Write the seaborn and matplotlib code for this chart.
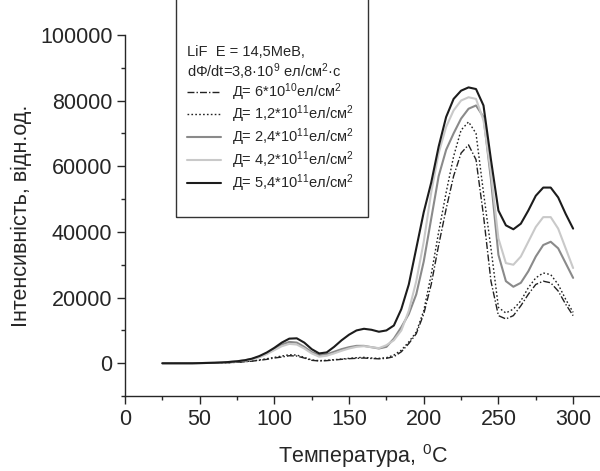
import numpy as np
import pandas as pd
import matplotlib
matplotlib.use("Agg")
import matplotlib.pyplot as plt
from matplotlib.lines import Line2D
from matplotlib.patches import Rectangle
from matplotlib.ticker import MultipleLocator
import seaborn as sns

# temperature grid, degrees C
temp = list(range(25, 301, 5))

# intensity for each dose
d_6e10 = [0, 0, 0, 0, 0, 30, 60, 100, 150, 200, 300, 450, 650, 900, 1200, 1600, 1900, 2300, 2200, 1600,
          900, 700, 800, 1000, 1200, 1400, 1500, 1600, 1450, 1350, 1500, 2000, 3500, 6000, 9000, 15000, 24000,
          36000, 47000, 57000, 64000, 66500, 62000, 45000, 25000, 14500, 13500, 14500, 17500, 21000, 24000,
          25000, 24500, 22000, 18000, 14500]
d_12e11 = [0, 0, 0, 0, 0, 30, 60, 100, 150, 200, 300, 500, 700, 1000, 1400, 1800, 2200, 2600, 2500, 1800,
           1000, 800, 900, 1100, 1300, 1500, 1700, 1800, 1600, 1500, 1700, 2500, 4000, 6500, 9500, 16000,
           27000, 40000, 52000, 63000, 71000, 73500, 70000, 52000, 35000, 17000, 15300, 16500, 19000, 23000,
           26000, 27500, 27000, 24000, 19500, 15500]
d_24e11 = [0, 0, 0, 0, 0, 50, 100, 150, 250, 400, 600, 900, 1300, 2000, 3000, 4300, 5700, 6500, 6300, 5000,
           3400, 2500, 2700, 3500, 4300, 4900, 5300, 5300, 4900, 4500, 5000, 7500, 11000, 15000, 21000,
           31000, 44000, 57000, 65000, 70000, 74500, 77500, 78500, 75000, 56000, 33000, 25000, 23300, 24500,
           28000, 32500, 36000, 37000, 35000, 30500, 26000]
d_42e11 = [0, 0, 0, 0, 0, 50, 100, 150, 250, 400, 600, 850, 1200, 1800, 2800, 4000, 5200, 5900, 5700, 4500,
           3000, 2000, 2300, 3000, 3800, 4500, 5000, 5200, 4900, 4600, 5500, 7000, 10000, 16000, 25000,
           37000, 52000, 64000, 72000, 77000, 80000, 81000, 80500, 74000, 58000, 38000, 30500, 30000, 32500,
           37000, 41500, 44500, 44500, 41000, 35000, 29000]
d_54e11 = [0, 0, 0, 0, 0, 50, 100, 150, 250, 400, 600, 900, 1400, 2200, 3300, 4700, 6300, 7500, 7600, 6300,
           4300, 3000, 3300, 5000, 7000, 8700, 10000, 10500, 10200, 9600, 10000, 11500, 16500, 24000, 35000,
           46000, 55000, 66000, 75000, 80500, 83000, 84000, 83500, 78500, 62000, 46500, 42000, 40800, 42500,
           46500, 51000, 53500, 53500, 50500, 45500, 41000]

labels = [
    "Д= 6*10$^{10}$ел/см$^{2}$",
    "Д= 1,2*10$^{11}$ел/см$^{2}$",
    "Д= 2,4*10$^{11}$ел/см$^{2}$",
    "Д= 4,2*10$^{11}$ел/см$^{2}$",
    "Д= 5,4*10$^{11}$ел/см$^{2}$",
]
series = [d_6e10, d_12e11, d_24e11, d_42e11, d_54e11]
colors = ["#222222", "#222222", "#8a8a8a", "#c9c9c9", "#1c1c1c"]
styles = [(0, (5, 1.5, 1, 1.5)), (0, (1.2, 1.6)), "-", "-", "-"]
widths = [1.0, 1.0, 1.5, 1.5, 1.5]

sns.set_style("ticks")
plt.rcParams["font.family"] = ["Liberation Sans", "DejaVu Sans"]
plt.rcParams["mathtext.default"] = "regular"

fig = plt.figure(figsize=(6, 4.71), dpi=100)
ax = fig.add_axes([0.2083, 0.159, 0.7917, 0.767])

handles = []
for vals, lab, c, ls, lw in zip(series, labels, colors, styles, widths):
    df = pd.DataFrame({"T": temp, "I": vals})
    sns.lineplot(data=df, x="T", y="I", ax=ax, color=c, linestyle=ls, linewidth=lw)
    handles.append(Line2D([], [], color=c, linestyle=ls, linewidth=lw, label=lab))

ax.set_xlim(0, 318)
ax.set_ylim(-10000, 100000)
ax.xaxis.set_major_locator(MultipleLocator(50))
ax.xaxis.set_minor_locator(MultipleLocator(25))
ax.yaxis.set_major_locator(MultipleLocator(20000))
ax.yaxis.set_minor_locator(MultipleLocator(10000))
ax.tick_params(which="major", length=6, width=1, labelsize=15.5, pad=3, direction="out")
ax.tick_params(which="minor", length=3, width=1, direction="out")
for s in ["top", "right"]:
    ax.spines[s].set_visible(False)
for s in ["left", "bottom"]:
    ax.spines[s].set_linewidth(1)

ax.set_xlabel("Температура, $^{0}$C", fontsize=15.5, labelpad=9)
ax.set_ylabel("Інтенсивність, відн.од.", fontsize=15.5, labelpad=6)

# legend box (extends above the axes, cut by the image edge)
ax.add_patch(Rectangle((0.1065, 0.496), 0.405, 0.7, transform=ax.transAxes,
                       fill=False, ec="#333333", lw=1, clip_on=False))
ax.text(0.1305, 0.953, "LiF  E = 14,5MeB,", transform=ax.transAxes, fontsize=10.5, va="center")
ax.text(0.1305, 0.8975, "dΦ/dt=3,8·10$^{9}$ ел/см$^{2}$·с", transform=ax.transAxes,
        fontsize=10.5, va="center")
ax.legend(handles=handles, loc="upper left", bbox_to_anchor=(0.1305, 0.872), frameon=False,
          fontsize=10.5, borderpad=0, borderaxespad=0, handlelength=2.3, handletextpad=0.8,
          labelspacing=0.08)

fig.savefig("out.png", dpi=100)
